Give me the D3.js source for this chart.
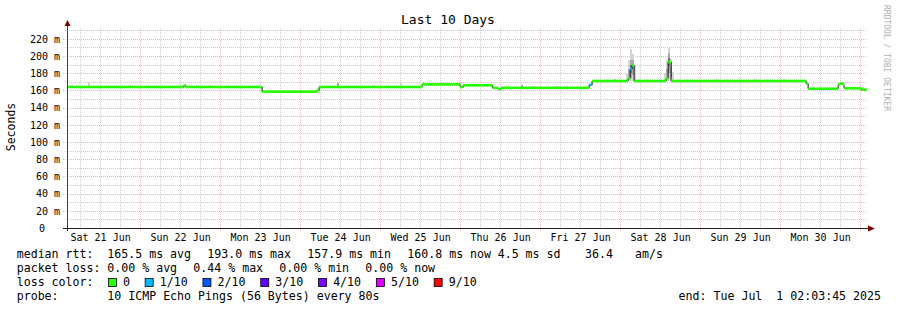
<!DOCTYPE html>
<html>
<head>
<meta charset="utf-8">
<script src="https://cdn.jsdelivr.net/npm/d3@7/dist/d3.min.js"></script>
<style>
body { margin: 0; background: #fff; }
svg { display: block; font-family: "DejaVu Sans Mono", monospace; }
</style>
</head>
<body>
<svg id="chart" width="897" height="310"></svg>
<script>
/** time window of the graph (UTC) **/
var startTime = "2025-06-21 02:03:45";
var endTime = "2025-07-01 02:03:45";

/** median rtt as steps: time the level starts, value in ms, lost pings of 10 **/
var medTime = ["2025-06-21 02:03", "2025-06-22 13:06", "2025-06-22 13:42", "2025-06-23 12:36",
    "2025-06-24 05:06", "2025-06-24 05:42", "2025-06-25 12:36", "2025-06-26 00:00",
    "2025-06-26 00:54", "2025-06-26 09:45", "2025-06-26 11:24", "2025-06-26 12:18",
    "2025-06-27 14:42", "2025-06-27 15:36", "2025-06-28 02:24", "2025-06-28 03:00",
    "2025-06-28 03:36", "2025-06-28 04:12", "2025-06-28 13:48", "2025-06-28 14:24",
    "2025-06-28 15:18", "2025-06-30 07:48", "2025-06-30 08:24", "2025-06-30 17:24",
    "2025-06-30 18:00", "2025-06-30 18:54", "2025-06-30 19:12", "2025-07-01 00:18"];
var medValue = [164, 165.8, 164, 158.5,
    160.5, 164, 167, 164,
    166, 163, 161.5, 163,
    166.5, 171, 174, 185,
    189, 171, 174, 193,
    171, 168, 162, 167,
    168, 166, 162.5, 160.8];
var medLoss = [0, 0, 0, 0,
    0, 0, 0, 0,
    0, 0, 0, 0,
    1, 0, 0, 1,
    0, 0, 0, 0,
    0, 0, 0, 0,
    0, 0, 0, 0];

/** smoke: spread of the single pings, depth = how many pings fall in the band **/
var smokeTime = ["2025-06-21 03:18", "2025-06-21 08:18", "2025-06-21 21:00", "2025-06-22 03:00",
    "2025-06-22 17:06", "2025-06-22 20:36", "2025-06-24 11:00", "2025-06-24 21:48",
    "2025-06-25 06:00", "2025-06-25 19:30", "2025-06-26 02:42", "2025-06-26 12:54",
    "2025-06-26 18:18", "2025-06-26 21:54", "2025-06-27 05:06", "2025-06-27 07:48",
    "2025-06-27 22:12",
    "2025-06-28 01:48", "2025-06-28 02:24", "2025-06-28 02:24", "2025-06-28 03:00",
    "2025-06-28 03:00", "2025-06-28 03:00", "2025-06-28 03:36", "2025-06-28 03:36",
    "2025-06-28 04:12",
    "2025-06-28 13:12", "2025-06-28 13:48", "2025-06-28 13:48", "2025-06-28 14:24",
    "2025-06-28 14:24", "2025-06-28 14:24", "2025-06-28 15:00", "2025-06-28 15:00",
    "2025-06-28 15:36",
    "2025-06-29 04:48", "2025-06-29 06:18", "2025-06-29 08:24", "2025-06-29 14:24",
    "2025-06-29 16:12", "2025-06-30 00:54", "2025-06-30 03:18", "2025-06-30 05:42"];
var smokeLow = [164, 164, 164, 164,
    164, 164, 164, 164,
    164, 167, 166, 163,
    163, 163, 163, 163,
    171,
    171, 171, 172, 171,
    175, 180, 171, 178,
    171,
    171, 171, 173, 171,
    180, 188, 171, 176,
    171,
    171, 168.5, 169, 169,
    171, 171, 168.5, 169];
var smokeHigh = [166.5, 169.5, 166, 165.5,
    166, 166.5, 168.5, 166,
    169.5, 169, 167.5, 165.5,
    166.5, 165, 165, 165,
    173,
    180, 195, 185, 208,
    195, 190, 202, 195,
    190,
    180, 195, 185, 209,
    203, 198, 196, 188,
    182,
    173.5, 171, 171, 171,
    173.5, 173, 171, 171];
var smokeDepth = [1, 1, 1, 1,
    1, 1, 2, 1,
    1, 1, 1, 1,
    2, 1, 1, 1,
    1,
    1, 1, 2, 1,
    2, 3, 1, 2,
    1,
    1, 1, 2, 1,
    2, 3, 1, 2,
    1,
    1, 1, 1, 1,
    1, 1, 1, 1];

/** y ticks (ms) and loss legend **/
var yTicks = [0, 20, 40, 60, 80, 100, 120, 140, 160, 180, 200, 220];
var lossLabels = ["0", "1/10", "2/10", "3/10", "4/10", "5/10", "9/10"];
var lossColors = ["#26ff00", "#00b8ff", "#0059ff", "#5e00ff", "#7e00ff", "#dd00ff", "#ff0000"];

/** legend figures **/
var rttStats = ["165.5", "193.0", "157.9", "160.8"];
var lossStats = ["0.00", "0.44", "0.00", "0.00"];
var statNames = ["avg", "max", "min", "now"];
var rttSd = "4.5";
var rttAmps = "36.4";
var probeText = "10 ICMP Echo Pings (56 Bytes) every 80s";

var parseFull = d3.utcParse("%Y-%m-%d %H:%M:%S");
var parseMin = d3.utcParse("%Y-%m-%d %H:%M");
var t0 = parseFull(startTime), t1 = parseFull(endTime);

var svg = d3.select("#chart");
svg.append("rect").attr("width", 897).attr("height", 310).attr("fill", "#fff");

var x = d3.scaleUtc().domain([t0, t1]).range([67, 867]);
var y = d3.scaleLinear().domain([0, 232.6]).range([228, 28]);

var lossColor = d3.scaleThreshold().domain([1, 2, 3, 4, 5, 9]).range(lossColors);
var smokeColor = d3.scaleOrdinal().domain([1, 2, 3]).range(["#d4d4d4", "#a8a8a8", "#6e6e6e"]);

/** grid **/
var grid = svg.append("g").attr("shape-rendering", "crispEdges");
d3.range(10, 232, 10).forEach(function (v) {
    var major = v % 20 === 0;
    grid.append("line")
        .attr("x1", major ? 63 : 65).attr("x2", 867)
        .attr("y1", Math.round(y(v)) + 0.5).attr("y2", Math.round(y(v)) + 0.5)
        .attr("stroke", major ? "#ecb4b4" : "#cccccc")
        .attr("stroke-dasharray", "1,1");
});
d3.utcHour.every(6).range(t0, t1).forEach(function (d) {
    var major = d.getUTCHours() === 0;
    grid.append("line")
        .attr("x1", Math.round(x(d)) + 0.5).attr("x2", Math.round(x(d)) + 0.5)
        .attr("y1", 28).attr("y2", major ? 231 : 230)
        .attr("stroke", major ? "#ecb4b4" : "#cccccc")
        .attr("stroke-dasharray", "1,1");
});

/** smoke **/
var smokeStep = 36 * 60 * 1000;
svg.append("g").attr("shape-rendering", "crispEdges")
    .selectAll("rect")
    .data(smokeTime.map(function (t, i) {
        return {t: parseMin(t), lo: smokeLow[i], hi: smokeHigh[i], depth: smokeDepth[i]};
    }))
    .enter().append("rect")
    .attr("x", function (d) { return x(d.t); })
    .attr("width", function (d) { return x(new Date(+d.t + smokeStep)) - x(d.t); })
    .attr("y", function (d) { return y(d.hi); })
    .attr("height", function (d) { return y(d.lo) - y(d.hi); })
    .attr("fill", function (d) { return smokeColor(d.depth); });

/** median: thin black step line, then loss coloured bands **/
var med = medTime.map(function (t, i) {
    return {t: i === 0 ? t0 : parseMin(t), v: medValue[i], loss: medLoss[i]};
});
med.forEach(function (d, i) { d.tEnd = i < med.length - 1 ? med[i + 1].t : t1; });

var stepLine = d3.line()
    .x(function (d) { return x(d[0]); })
    .y(function (d) { return y(d[1]); })
    .curve(d3.curveStepAfter);
svg.append("path")
    .datum(med.map(function (d) { return [d.t, d.v]; }).concat([[t1, med[med.length - 1].v]]))
    .attr("d", stepLine)
    .attr("fill", "none")
    .attr("stroke", "#101010")
    .attr("stroke-width", 1);

svg.append("g").selectAll("rect")
    .data(med)
    .enter().append("rect")
    .attr("x", function (d) { return x(d.t); })
    .attr("width", function (d) { return x(d.tEnd) - x(d.t); })
    .attr("y", function (d) { return y(d.v) - 1.3; })
    .attr("height", 2.6)
    .attr("fill", function (d) { return lossColor(d.loss); });

/** axes lines and arrows **/
svg.append("line").attr("x1", 67.5).attr("x2", 67.5).attr("y1", 26).attr("y2", 231)
    .attr("stroke", "#404040").attr("shape-rendering", "crispEdges");
svg.append("line").attr("x1", 63).attr("x2", 870).attr("y1", 228.5).attr("y2", 228.5)
    .attr("stroke", "#202020").attr("shape-rendering", "crispEdges");
svg.append("path").attr("d", "M64.5,26 L67.5,20 L70.5,26 Z").attr("fill", "#7f0000");
svg.append("path").attr("d", "M868,225.5 L875,228.5 L868,231.5 Z").attr("fill", "#7f0000");

/** y axis labels **/
var yAxis = svg.append("g")
    .attr("transform", "translate(67,0)")
    .call(d3.axisLeft(y).tickValues(yTicks).tickSize(0).tickPadding(7)
        .tickFormat(function (v) { return v === 0 ? "0" : v + " m"; }));
yAxis.select(".domain").remove();
yAxis.selectAll("text")
    .attr("font-family", "DejaVu Sans Mono")
    .attr("font-size", 10)
    .attr("fill", "#000")
    .attr("dx", function (v) { return v === 0 ? -15 : 0; });

/** x axis labels, centred at noon like rrdtool **/
var labelDays = d3.utcDay.range(d3.utcDay.ceil(t0), t1).map(function (d) { return d3.utcHour.offset(d, 12); });
labelDays.unshift(d3.utcHour.offset(d3.utcDay.floor(t0), 12));
labelDays = labelDays.filter(function (d) { return d < t1; });
var xAxis = svg.append("g")
    .attr("transform", "translate(0,228)")
    .call(d3.axisBottom(x).tickValues(labelDays).tickSize(0).tickPadding(6)
        .tickFormat(d3.utcFormat("%a %d %b")));
xAxis.select(".domain").remove();
xAxis.selectAll("text")
    .attr("font-family", "DejaVu Sans Mono")
    .attr("font-size", 10)
    .attr("fill", "#000");

/** title, vertical label, watermark **/
svg.append("text").attr("x", 448).attr("y", 24).attr("text-anchor", "middle")
    .attr("font-size", 13).text("Last 10 Days");
svg.append("text").attr("transform", "translate(14.5,127) rotate(-90)")
    .attr("text-anchor", "middle").attr("font-size", 11.5).text("Seconds");
svg.append("text").attr("transform", "translate(884,5) rotate(90)")
    .attr("font-size", 8).attr("fill", "#b0b0b0").text("RRDTOOL / TOBI OETIKER");

/** legend **/
var lg = svg.append("g").attr("font-size", 11.6).attr("fill", "#000");
function item(xp, yp, s) {
    return lg.append("text").attr("x", xp).attr("y", yp).style("white-space", "pre").text(s);
}

item(16.7, 258, "median rtt:");
rttStats.forEach(function (s, i) { item(107.3 + i * 100, 258, s + " ms " + statNames[i]); });
item(497.7, 258, rttSd + " ms sd");
item(585, 258, rttAmps);
item(635, 258, "am/s");

item(16.7, 272, "packet loss:");
lossStats.forEach(function (s, i) { item(107.3 + i * 86, 272, s + " % " + statNames[i]); });

item(16.7, 286, "loss color:");
var bx = 108.5, cw = 7.05;
lossLabels.forEach(function (s, i) {
    lg.append("rect").attr("x", bx).attr("y", 278.5).attr("width", 8).attr("height", 8)
        .attr("fill", lossColors[i]).attr("stroke", "#000").attr("stroke-width", 0.8);
    item(bx + 14.6, 286, s);
    bx = bx + 14.6 + s.length * cw + 15;
});

item(16.7, 300, "probe:");
item(107.3, 300, probeText);
item(881, 300, "end: " + d3.utcFormat("%a %b %e %H:%M:%S %Y")(t1)).attr("text-anchor", "end");
</script>
</body>
</html>
